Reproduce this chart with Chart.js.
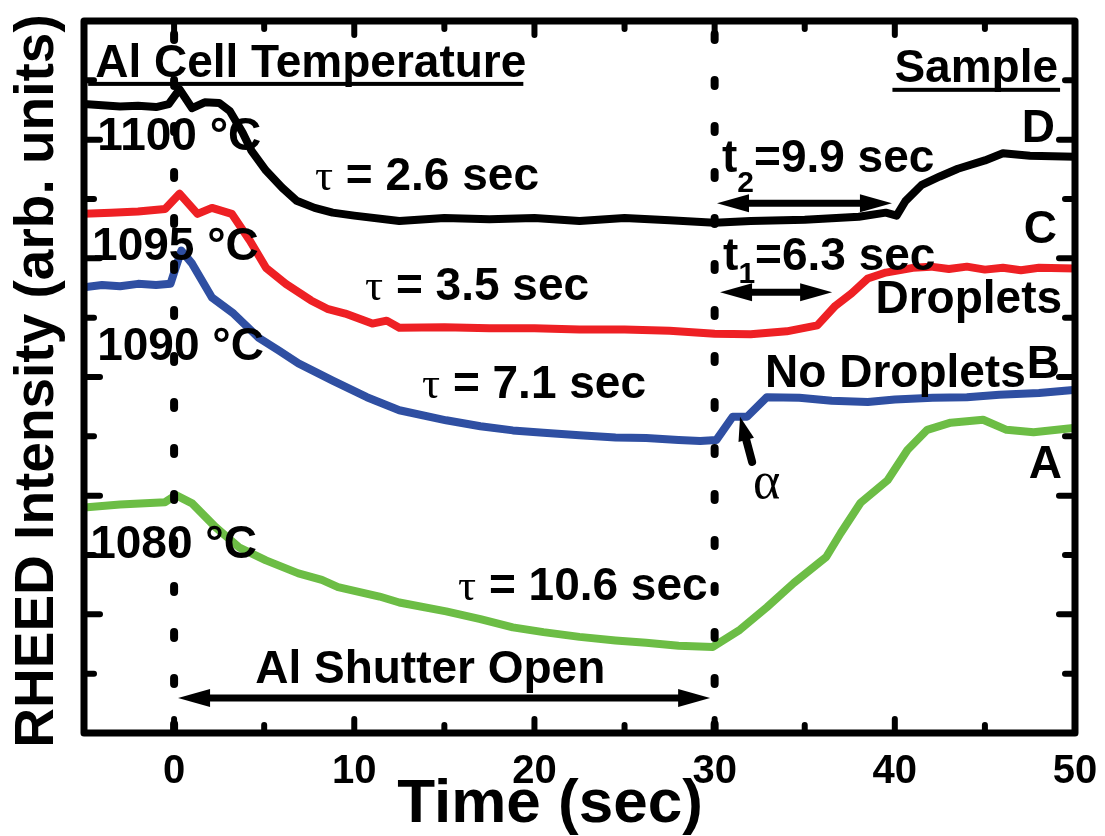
<!DOCTYPE html>
<html>
<head>
<meta charset="utf-8">
<title>RHEED Intensity vs Time</title>
<script src="https://cdn.jsdelivr.net/npm/chart.js@4.4.1/dist/chart.umd.min.js"></script>
<style>
  html, body { margin: 0; padding: 0; background: #fff; }
  #wrap { width: 1105px; height: 836px; }
</style>
</head>
<body>
<div id="wrap"><canvas id="rheed" width="1105" height="836"></canvas></div>
<script>
// x: time (sec), y: RHEED intensity (arb. units, 0..12)

// sample D, Al cell 1100 °C (black)
const timeD = [-5, -4, -3, -2, -1, -0.3, 0.3, 1.0, 1.7, 2.5, 3.1, 3.8, 4.3, 5.1, 6.0, 6.8, 7.8, 8.8, 10, 12.5,
  15, 17.5, 20, 22.5, 25, 27.5, 30, 32, 35, 38, 39.5, 40.1, 40.6, 41.5, 42.5, 43.5, 45, 46, 47.5, 50];
const intensityD = [10.60, 10.58, 10.56, 10.57, 10.55, 10.60, 10.85, 10.53, 10.63, 10.62, 10.48, 10.12, 9.81, 9.48, 9.19, 8.97, 8.85, 8.77, 8.72, 8.63,
  8.68, 8.66, 8.68, 8.63, 8.68, 8.64, 8.60, 8.63, 8.65, 8.70, 8.77, 8.72, 8.97, 9.24, 9.38, 9.51, 9.65, 9.77, 9.73, 9.71];

// sample C, 1095 °C (red)
const timeC = [-5, -3.5, -2, -0.5, 0.3, 1.3, 2.1, 3.2, 4.2, 5.1, 6.2, 7.6, 8.5, 9.5, 11, 11.8, 12.5, 15, 17.5, 20,
  22.5, 25, 27.5, 30, 32, 34, 35.7, 36.7, 37.6, 38.5, 39.5, 41, 42, 43, 44, 45, 46, 47, 48, 50];
const intensityC = [8.75, 8.77, 8.79, 8.83, 9.09, 8.75, 8.85, 8.75, 8.30, 7.84, 7.57, 7.29, 7.15, 7.07, 6.90, 6.95, 6.83, 6.84, 6.82, 6.82,
  6.80, 6.80, 6.78, 6.73, 6.72, 6.77, 6.87, 7.20, 7.41, 7.66, 7.76, 7.84, 7.86, 7.82, 7.86, 7.81, 7.84, 7.80, 7.84, 7.83];

// sample B, 1090 °C (blue)
const timeB = [-5, -4, -3, -2, -1, -0.2, 0.4, 1.0, 2.1, 3.3, 4.7, 5.8, 6.9, 8.8, 10.7, 12.5, 15.1, 17, 18.8, 20.5,
  22.5, 24.5, 26.2, 28, 29.2, 30.1, 31.0, 31.8, 32.9, 34.7, 36.5, 38.5, 40, 42.1, 44, 45.8, 48, 49.9];
const intensityB = [7.51, 7.55, 7.53, 7.57, 7.55, 7.57, 8.13, 7.91, 7.34, 7.07, 6.66, 6.45, 6.23, 5.94, 5.66, 5.44, 5.27, 5.17, 5.10, 5.06,
  5.02, 4.98, 4.97, 4.94, 4.92, 4.94, 5.33, 5.33, 5.66, 5.65, 5.60, 5.58, 5.62, 5.65, 5.66, 5.70, 5.73, 5.78];

// sample A, 1080 °C (green)
const timeA = [-5, -3, -0.5, 0.1, 1.0, 2.3, 3.6, 5.1, 6.9, 8.2, 9.1, 11.4, 12.5, 15.1, 17, 18.8, 20.5, 22.5, 24.5, 26.2,
  28, 29.9, 31.4, 32.9, 34.4, 36.2, 37.0, 38.1, 39.6, 40.7, 41.8, 43.1, 44.9, 46.2, 47.7, 49.9];
const intensityA = [3.80, 3.85, 3.89, 4.01, 3.87, 3.47, 3.13, 2.91, 2.69, 2.58, 2.46, 2.30, 2.20, 2.05, 1.92, 1.78, 1.70, 1.62, 1.56, 1.52,
  1.47, 1.45, 1.74, 2.12, 2.53, 2.97, 3.37, 3.88, 4.26, 4.77, 5.11, 5.23, 5.28, 5.11, 5.07, 5.14];

const timeTicks = [0, 10, 20, 30, 40, 50];
const shutterTimes = [0, 30];   // Al shutter open / close

const SANS = '"Liberation Sans", Arial, sans-serif';
const SERIF = '"Liberation Serif", "Times New Roman", serif';
const B46 = 'bold 46px ' + SANS;
const B30 = 'bold 30px ' + SANS;
const G44 = '45px ' + SERIF;

const toPoints = (xs, ys) => xs.map((t, i) => ({ x: t, y: ys[i] }));

// text notes, placed in data coordinates
const notes = [
  { x: -4.38, y: 11.06, runs: [['Al Cell Temperature', B46]], underline: 10.94 },
  { x: 49.06, y: 10.97, runs: [['Sample', B46]], align: 'right', underline: 10.84 },
  { x: -4.27, y: 9.83, runs: [['1100 °C', B46]] },
  { x: -4.55, y: 7.97, runs: [['1095 °C', B46]] },
  { x: -4.27, y: 6.29, runs: [['1090 °C', B46]] },
  { x: -4.66, y: 2.95, runs: [['1080 °C', B46]] },
  { x: 7.82, y: 9.15, runs: [['τ', G44], [' = 2.6 sec', B46]] },
  { x: 10.6, y: 7.30, runs: [['τ', G44], [' = 3.5 sec', B46]] },
  { x: 13.76, y: 5.65, runs: [['τ', G44], [' = 7.1 sec', B46]] },
  { x: 15.76, y: 2.24, runs: [['τ', G44], [' = 10.6 sec', B46]] },
  { x: 4.50, y: 0.84, runs: [['Al Shutter Open', B46]] },
  { x: 30.41, y: 9.46, runs: [['t', B46], ['2', B30, 20], ['=9.9 sec', B46]] },
  { x: 30.47, y: 7.80, runs: [['t', B46], ['1', B30, 13], ['=6.3 sec', B46]] },
  { x: 48.89, y: 9.96, runs: [['D', B46]], align: 'right' },
  { x: 49.0, y: 8.26, runs: [['C', B46]], align: 'right' },
  { x: 49.28, y: 7.08, runs: [['Droplets', B46]], align: 'right' },
  { x: 32.80, y: 5.83, runs: [['No Droplets', B46]] },
  { x: 49.17, y: 5.98, runs: [['B', B46]], align: 'right' },
  { x: 49.28, y: 4.30, runs: [['A', B46]], align: 'right' },
  { x: 32.13, y: 3.96, runs: [['α', '52px ' + SERIF]] }
];

// double-headed arrows: [x0, x1, y]
const spans = [[0.22, 29.75, 0.59], [30.13, 39.84, 8.93], [30.3, 36.52, 7.43]];

function arrowHead(ctx, tipX, tipY, ang, len, half) {
  ctx.beginPath();
  ctx.moveTo(tipX, tipY);
  ctx.lineTo(tipX - len * Math.cos(ang) + half * Math.sin(ang), tipY - len * Math.sin(ang) - half * Math.cos(ang));
  ctx.lineTo(tipX - len * Math.cos(ang) - half * Math.sin(ang), tipY - len * Math.sin(ang) + half * Math.cos(ang));
  ctx.closePath();
  ctx.fill();
}

const framePlugin = {
  id: 'frameNotes',
  afterDatasetsDraw(chart) {
    const { ctx, chartArea: a, scales: { x, y } } = chart;
    const X = v => x.getPixelForValue(v);
    const Y = v => y.getPixelForValue(v);
    ctx.save();
    ctx.strokeStyle = '#000';
    ctx.fillStyle = '#000';

    // dotted lines at shutter open / close
    ctx.lineWidth = 8;
    ctx.lineCap = 'round';
    ctx.setLineDash([6, 40]);
    ctx.lineDashOffset = -3;
    shutterTimes.forEach(t => {
      ctx.beginPath();
      ctx.moveTo(X(t), a.bottom);
      ctx.lineTo(X(t), a.top);
      ctx.stroke();
    });
    ctx.setLineDash([]);

    // frame
    ctx.lineWidth = 7;
    ctx.lineJoin = 'round';
    ctx.strokeRect(a.left, a.top, a.right - a.left, a.bottom - a.top);

    // inward ticks
    ctx.lineWidth = 6;
    for (let t = 0; t < 50; t += 5) {
      const len = t % 10 === 0 ? 14 : 8;
      ctx.beginPath();
      ctx.moveTo(X(t), a.bottom); ctx.lineTo(X(t), a.bottom - len);
      ctx.moveTo(X(t), a.top); ctx.lineTo(X(t), a.top + len);
      ctx.stroke();
    }
    for (let v = 1; v < 12; v++) {
      const len = v % 2 === 0 ? 16 : 10;
      ctx.beginPath();
      ctx.moveTo(a.left, Y(v)); ctx.lineTo(a.left + len, Y(v));
      ctx.moveTo(a.right, Y(v)); ctx.lineTo(a.right - len, Y(v));
      ctx.stroke();
    }

    // arrows
    ctx.lineWidth = 7;
    ctx.lineCap = 'butt';
    spans.forEach(([x0, x1, yv]) => {
      const p0 = X(x0), p1 = X(x1), py = Y(yv);
      ctx.beginPath();
      ctx.moveTo(p0 + 20, py); ctx.lineTo(p1 - 20, py);
      ctx.stroke();
      arrowHead(ctx, p0, py, Math.PI, 32, 9);
      arrowHead(ctx, p1, py, 0, 32, 9);
    });
    // alpha pointer
    const ax0 = X(32.08), ay0 = Y(4.57), ax1 = X(31.41), ay1 = Y(5.33);
    const ang = Math.atan2(ay1 - ay0, ax1 - ax0);
    ctx.lineWidth = 8;
    ctx.lineCap = 'round';
    ctx.beginPath();
    ctx.moveTo(ax0, ay0);
    ctx.lineTo(ax1 - 18 * Math.cos(ang), ay1 - 18 * Math.sin(ang));
    ctx.stroke();
    arrowHead(ctx, ax1, ay1, ang, 24, 8);

    // text notes
    ctx.textBaseline = 'alphabetic';
    ctx.textAlign = 'left';
    notes.forEach(n => {
      let total = 0;
      n.runs.forEach(([s, f]) => { ctx.font = f; total += ctx.measureText(s).width; });
      let px = X(n.x) - (n.align === 'right' ? total : 0);
      const py = Y(n.y);
      const start = px;
      n.runs.forEach(([s, f, dy]) => {
        ctx.font = f;
        ctx.fillText(s, px, py + (dy || 0));
        px += ctx.measureText(s).width;
      });
      if (n.underline !== undefined) {
        ctx.fillRect(n.align === 'right' ? start - 2 : start - 7, Y(n.underline) - 2, total + 4, 4);
      }
    });
    ctx.restore();
  },
  afterDraw(chart) {
    const { ctx } = chart;
    ctx.save();
    ctx.fillStyle = '#000';
    ctx.textAlign = 'center';
    ctx.textBaseline = 'alphabetic';
    ctx.font = 'bold 62px ' + SANS;
    ctx.fillText('Time (sec)', 550, 822);
    ctx.translate(53, 381);
    ctx.rotate(-Math.PI / 2);
    ctx.font = 'bold 55px ' + SANS;
    ctx.fillText('RHEED Intensity (arb. units)', 0, 0);
    ctx.restore();
  }
};

const line = (label, xs, ys, color) => ({
  label,
  data: toPoints(xs, ys),
  borderColor: color,
  backgroundColor: color,
  borderWidth: 8,
  pointRadius: 0,
  tension: 0,
  borderJoinStyle: 'round',
  borderCapStyle: 'round'
});

new Chart(document.getElementById('rheed'), {
  type: 'line',
  data: {
    datasets: [
      line('A (1080 °C)', timeA, intensityA, '#6cbd45'),
      line('B (1090 °C)', timeB, intensityB, '#2f4fa2'),
      line('C (1095 °C)', timeC, intensityC, '#ee2024'),
      line('D (1100 °C)', timeD, intensityD, '#000000')
    ]
  },
  options: {
    responsive: false,
    animation: false,
    devicePixelRatio: 1,
    layout: { padding: { left: 84, right: 30, top: 21, bottom: 25 } },
    plugins: { legend: { display: false }, tooltip: { enabled: false } },
    scales: {
      x: {
        type: 'linear',
        min: -5,
        max: 50,
        afterBuildTicks: s => { s.ticks = timeTicks.map(v => ({ value: v })); },
        afterFit: s => { s.paddingLeft = 0; s.paddingRight = 0; },
        grid: { display: false, drawTicks: false },
        border: { display: false },
        ticks: {
          maxRotation: 0,
          padding: 15,
          color: '#000',
          font: { family: SANS, size: 40, weight: 'bold', lineHeight: 1.2 }
        }
      },
      y: {
        type: 'linear',
        min: 0,
        max: 12,
        display: false
      }
    }
  },
  plugins: [framePlugin]
});
</script>
</body>
</html>
